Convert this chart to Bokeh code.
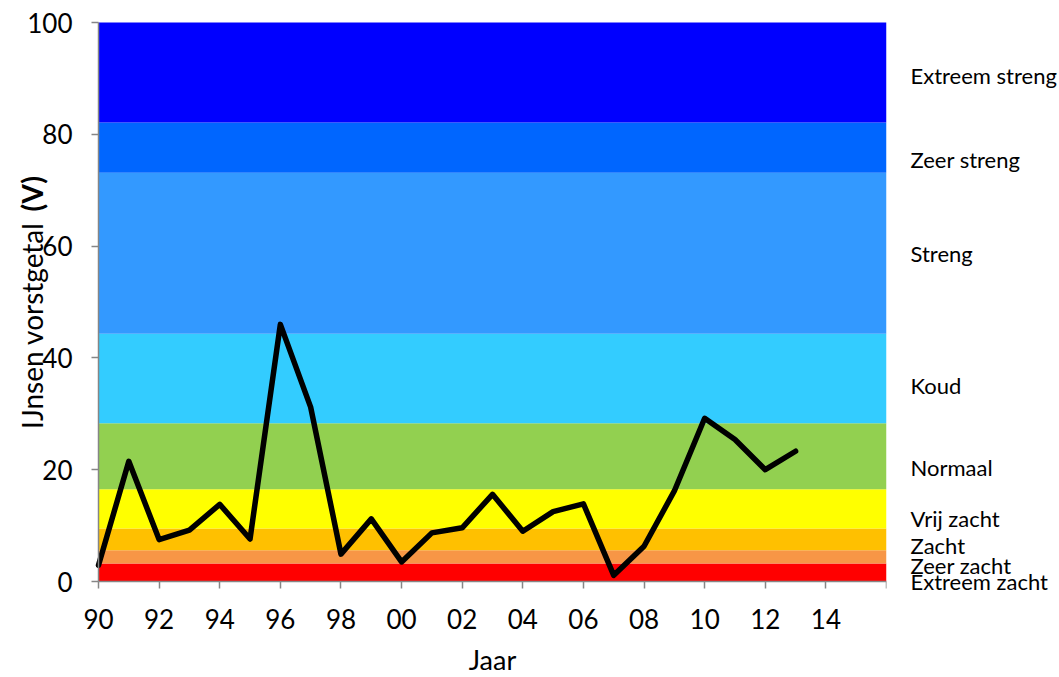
from bokeh.plotting import figure
from bokeh.models import FixedTicker, LinearAxis
from bokeh.core.properties import value
from bokeh.embed import file_html
from bokeh.resources import INLINE
import math

# ---- data ----
years = list(range(1990, 2014))
vorstgetal = [2.9, 21.5, 7.5, 9.2, 13.8, 7.6, 46.0, 31.2, 4.9, 11.2, 3.5, 8.7,
              9.6, 15.6, 9.0, 12.5, 13.9, 1.1, 6.3, 16.2, 29.2, 25.4, 20.0, 23.3]

class_names = ["Extreem zacht", "Zeer zacht", "Zacht", "Vrij zacht", "Normaal",
               "Koud", "Streng", "Zeer streng", "Extreem streng"]
class_low = [0.0, 3.2, 5.6, 9.5, 16.5, 28.3, 44.3, 73.1, 82.1]
class_high = [3.2, 5.6, 9.5, 16.5, 28.3, 44.3, 73.1, 82.1, 100.0]
class_colors = ["#FF0000", "#F79646", "#FFC000", "#FFFF00", "#92D050",
                "#33CCFF", "#3399FF", "#0066FF", "#0000FF"]
class_label_y = [0.0, 2.9, 6.4, 11.2, 20.4, 35.1, 58.7, 75.5, 90.5]

x_ticks = list(range(1990, 2017, 2))
x_tick_labels = ["90", "92", "94", "96", "98", "00", "02", "04", "06", "08",
                 "10", "12", "14", ""]
y_ticks = [0, 20, 40, 60, 80, 100]

X_START, X_END = 1990, 2016
Y_START, Y_END = 0, 100
FONT = "Lato"

# layout (pixels): data area 98..886 x 22..581 on a 677 px high canvas
AREA_LEFT, AREA_W = 98, 788
AREA_TOP, AREA_H = 22, 559
CANVAS_H = 677
px_per_x = AREA_W / (X_END - X_START)
px_per_y = AREA_H / (Y_END - Y_START)
x_view = (X_START - AREA_LEFT / px_per_x, X_END)
y_view = (Y_START - (CANVAS_H - AREA_TOP - AREA_H) / px_per_y, Y_END + AREA_TOP / px_per_y)

p = figure(frame_width=AREA_LEFT + AREA_W, frame_height=CANVAS_H,
           output_backend="svg", toolbar_location=None,
           x_range=x_view, y_range=y_view,
           min_border_left=0, min_border_right=0, min_border_top=0,
           min_border_bottom=0)
p.outline_line_color = None
p.grid.visible = False

p.quad(left=X_START, right=X_END, bottom=class_low, top=class_high,
       fill_color=class_colors, line_color=None)
p.line(years, vorstgetal, line_width=5.5, line_color="black",
       line_join="round", line_cap="round")

for ax in (p.xaxis[0], p.yaxis[0]):
    ax.axis_line_color = "#868686"
    ax.axis_line_width = 1.5
    ax.major_tick_line_color = "#868686"
    ax.major_tick_line_width = 1.5
    ax.major_tick_out = 7
    ax.major_tick_in = 0
    ax.minor_tick_line_color = None
    ax.major_label_text_font = FONT
    ax.major_label_text_font_size = "26px"
    ax.major_label_text_color = "black"

p.xaxis.ticker = FixedTicker(ticks=x_ticks)
p.xaxis.bounds = (X_START, X_END)
p.xaxis.fixed_location = Y_START
p.xaxis.major_label_overrides = {t: l for t, l in zip(x_ticks, x_tick_labels)}
p.xaxis.major_label_standoff = 20

p.yaxis.ticker = FixedTicker(ticks=y_ticks)
p.yaxis.bounds = (Y_START, Y_END)
p.yaxis.fixed_location = X_START
p.yaxis.major_label_standoff = 19

# x-axis title "Jaar" centred under the data area
mid_x = (X_START + X_END) / 2
jaar_ax = LinearAxis(ticker=FixedTicker(ticks=[mid_x]),
                     major_label_overrides={mid_x: "Jaar"},
                     fixed_location=Y_START)
jaar_ax.axis_line_color = None
jaar_ax.major_tick_line_color = None
jaar_ax.minor_tick_line_color = None
jaar_ax.major_tick_out = 0
jaar_ax.major_label_standoff = 61
jaar_ax.major_label_text_font = FONT
jaar_ax.major_label_text_font_size = "27px"
jaar_ax.major_label_text_color = "black"
p.add_layout(jaar_ax, "below")

# class names on the right
right_ax = LinearAxis(ticker=FixedTicker(ticks=class_label_y),
                      major_label_overrides={v: n for v, n in zip(class_label_y, class_names)})
right_ax.axis_line_color = None
right_ax.major_tick_line_color = None
right_ax.minor_tick_line_color = None
right_ax.major_tick_out = 0
right_ax.major_label_standoff = 24
right_ax.major_label_text_font = FONT
right_ax.major_label_text_font_size = "22px"
right_ax.major_label_text_color = "black"
p.add_layout(right_ax, "right")

# y-axis title with bold "(V)" (left of the y axis)
title_x = X_START - (AREA_LEFT - 31) / px_per_x
p.text(x=[title_x], y=[27.3], text=["IJnsen vorstgetal"], angle=math.pi / 2,
       text_align="left", text_baseline="middle", text_font=value(FONT),
       text_font_size="28px", text_color="black")
p.text(x=[title_x], y=[66.2], text=["(V)"], angle=math.pi / 2,
       text_align="left", text_baseline="middle", text_font=value(FONT),
       text_font_size="28px", text_font_style="bold", text_color="black")

open("out.html", "w").write(file_html(p, INLINE))
